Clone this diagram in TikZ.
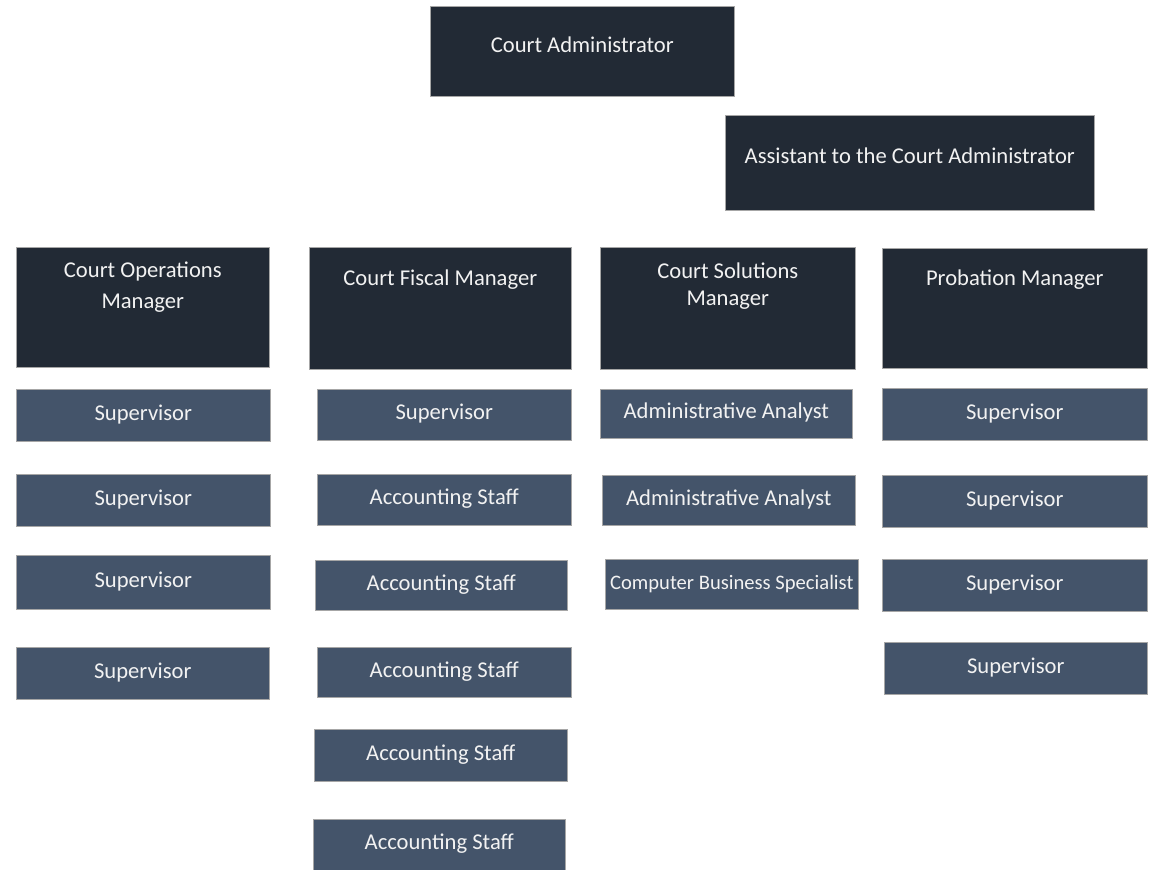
\documentclass[tikz,border=0pt]{standalone}
\usepackage{fontspec}
\setmainfont{Carlito}
\definecolor{headfill}{HTML}{222A35}
\definecolor{stafffill}{HTML}{44546A}
\definecolor{edgegray}{HTML}{A6A6A6}
\definecolor{boxtext}{HTML}{F2F2F2}
\tikzset{%
  base/.style = {rectangle,anchor=north west,draw=edgegray,line width=0.3pt,
        text=boxtext,inner sep=0pt,font=\fontsize{11.3}{13}\selectfont},
  head/.style = {base,fill=headfill,text height=7pt,text depth=6pt},
  staff/.style = {base,fill=stafffill,minimum width=127pt,
        minimum height=26pt,text height=7pt,text depth=2pt},
  title/.style = {anchor=north,text=boxtext,align=center,inner sep=0pt,
        font=\fontsize{11.3}{13.5}\selectfont}
}

\begin{document}
\begin{tikzpicture}[x=0.5pt,y=-0.5pt]
    \useasboundingbox (0,0) rectangle (1155,870);
    % top
    \node[head,minimum width=152pt,minimum height=45pt] (admin) at (430,6) {Court Administrator};
    \node[head,minimum width=184.5pt,minimum height=47.5pt] (assist) at (725,115) {Assistant to the Court Administrator};
    % managers
    \node[head,minimum width=126.5pt,minimum height=60pt,
        label={[title,yshift=-7pt]north:Court Operations\\[2pt]Manager}] (opsmgr) at (16,247) {};
    \node[head,minimum width=131pt,minimum height=61pt,
        label={[title,yshift=-11pt]north:Court Fiscal Manager}] (fiscmgr) at (309,247) {};
    \node[head,minimum width=127.5pt,minimum height=61pt,
        label={[title,yshift=-7.5pt]north:Court Solutions\\Manager}] (solmgr) at (600,247) {};
    \node[head,minimum width=132.5pt,minimum height=60pt,
        label={[title,yshift=-10.5pt]north:Probation Manager}] (probmgr) at (882,248) {};
    % operations
    \node[staff] (ops1) at (16,389) {Supervisor};
    \node[staff] (ops2) at (16,474) {Supervisor};
    \node[staff,minimum height=27pt] (ops3) at (16,555) {Supervisor};
    \node[staff,minimum width=126.5pt] (ops4) at (16,647) {Supervisor};
    % fiscal
    \node[staff,minimum height=25.5pt] (fisc1) at (317,389) {Supervisor};
    \node[staff,minimum height=25.5pt] (fisc2) at (317,474) {Accounting Staff};
    \node[staff,minimum width=126pt,minimum height=25pt] (fisc3) at (315,560) {Accounting Staff};
    \node[staff,minimum height=25pt] (fisc4) at (317,647) {Accounting Staff};
    \node[staff,minimum width=126.5pt] (fisc5) at (314,729) {Accounting Staff};
    \node[staff,minimum width=126pt,minimum height=25.5pt] (fisc6) at (313,819) {Accounting Staff};
    % solutions
    \node[staff,minimum width=126pt,minimum height=24.5pt] (sol1) at (600,389) {Administrative Analyst};
    \node[staff,minimum width=126.5pt,minimum height=25pt] (sol2) at (602,475) {Administrative Analyst};
    \node[staff,minimum width=126.5pt,minimum height=25pt,
        font=\fontsize{10.3}{12}\selectfont] (sol3) at (605,559) {Computer Business Specialist};
    % probation
    \node[staff,minimum width=132.5pt] (prob1) at (882,388) {Supervisor};
    \node[staff,minimum width=132.5pt] (prob2) at (882,475) {Supervisor};
    \node[staff,minimum width=132.5pt] (prob3) at (882,559) {Supervisor};
    \node[staff,minimum width=131.5pt] (prob4) at (884,642) {Supervisor};
\end{tikzpicture}
\end{document}
